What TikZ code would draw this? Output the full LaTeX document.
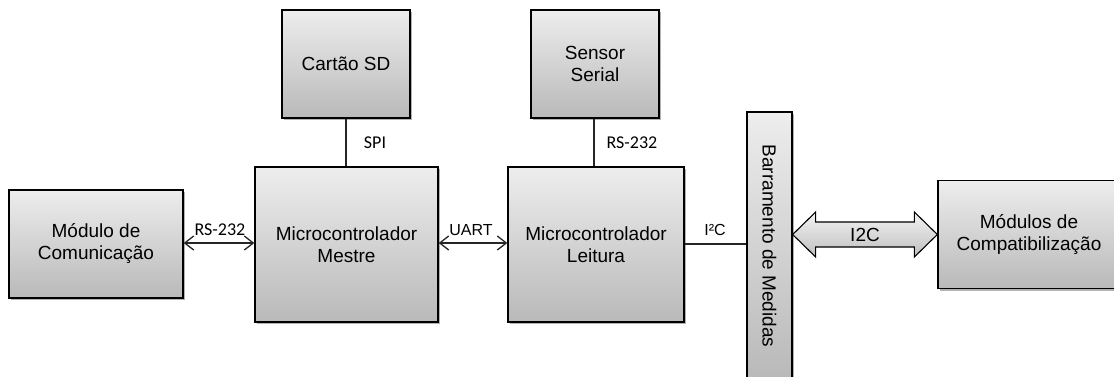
\documentclass[tikz,border=0pt]{standalone}
\usepackage{fontspec}
\setmainfont{Liberation Sans}
\newfontfamily\calib{Carlito}
\usetikzlibrary{arrows.meta,shadows,calc}

\tikzset{
  blk/.style={draw=black, line width=1.3pt, top color=gray!14, bottom color=gray!55,
    drop shadow={shadow xshift=2pt, shadow yshift=-2pt, fill=black, opacity=0.3},
    align=center, font=\fontsize{19}{22}\selectfont, inner sep=0pt},
  link/.style={line width=1.3pt, draw=black!85},
  biarrow/.style={link, {Straight Barb[length=9pt,width=14pt,line width=1.3pt]}-{Straight Barb[length=9pt,width=14pt,line width=1.3pt]}},
  lbl/.style={font=\fontsize{16}{18}\selectfont, inner sep=1pt},
  clbl/.style={font=\calib\fontsize{18}{20}\selectfont, inner sep=1pt}
}

\begin{document}
\begin{tikzpicture}[x=1pt, y=-1pt]
\useasboundingbox[fill=white] (0,0) rectangle (1114,376);

% blocks
\node[blk, minimum width=174pt, minimum height=108pt] (com) at (96,244) {Módulo de\\Comunicação};
\node[blk, minimum width=183pt, minimum height=155pt] (mestre) at (346.5,244.5) {Microcontrolador\\Mestre};
\node[blk, minimum width=128pt, minimum height=108pt] (sd) at (346,64) {Cartão SD};
\node[blk, minimum width=128pt, minimum height=108pt] (sensor) at (595,64) {Sensor\\Serial};
\node[blk, minimum width=176pt, minimum height=155pt] (leitura) at (596,244.5) {Microcontrolador\\Leitura};
% vertical bus: rotated clockwise, so its south side faces left and its north side faces right
\node[blk, rotate=-90, minimum width=268pt, minimum height=45pt] (bus) at (769.5,246) {Barramento de Medidas};
\node[blk, minimum width=182pt, minimum height=108pt] (compat) at (1029,234.5) {Módulos de\\Compatibilização};

% point-to-point links
\draw[biarrow] (com.east |- 0,243) -- (mestre.west |- 0,243);
\draw[biarrow] (mestre.east |- 0,243) -- (leitura.west |- 0,243);
\draw[link] (sd.south) -- (sd.south |- mestre.north);
\draw[link] (sensor.south -| 594,0) -- (leitura.north -| 594,0);
\draw[link] (leitura.east |- 0,244) -- (bus.south |- 0,244);

% wide I2C block arrow between the bus and the compatibility modules
\coordinate (al) at (bus.north |- 0,234.5);
\coordinate (ar) at (compat.west |- 0,234.5);
\draw[line width=1.1pt, top color=gray!10, bottom color=gray!50]
  (al) -- ($(al)+(23,-22.5)$) -- ($(al)+(23,-12.5)$) -- ($(ar)+(-23,-12.5)$)
  -- ($(ar)+(-23,-22.5)$) -- (ar) -- ($(ar)+(-23,22.5)$) -- ($(ar)+(-23,12.5)$)
  -- ($(al)+(23,12.5)$) -- ($(al)+(23,22.5)$) -- cycle;
\node[font=\fontsize{19}{22}\selectfont, inner sep=0pt] (i2c) at ($(al)!0.5!(ar)$) {I2C};

% link labels
\node[clbl] (l1) at (220,230) {RS-232};
\node[lbl]  (l2) at (471,230) {UART};
\node[clbl] (l3) at (375,143) {SPI};
\node[clbl] (l4) at (632,143) {RS-232};
\node[lbl]  (l5) at (715,230) {I²C};
\end{tikzpicture}
\end{document}
